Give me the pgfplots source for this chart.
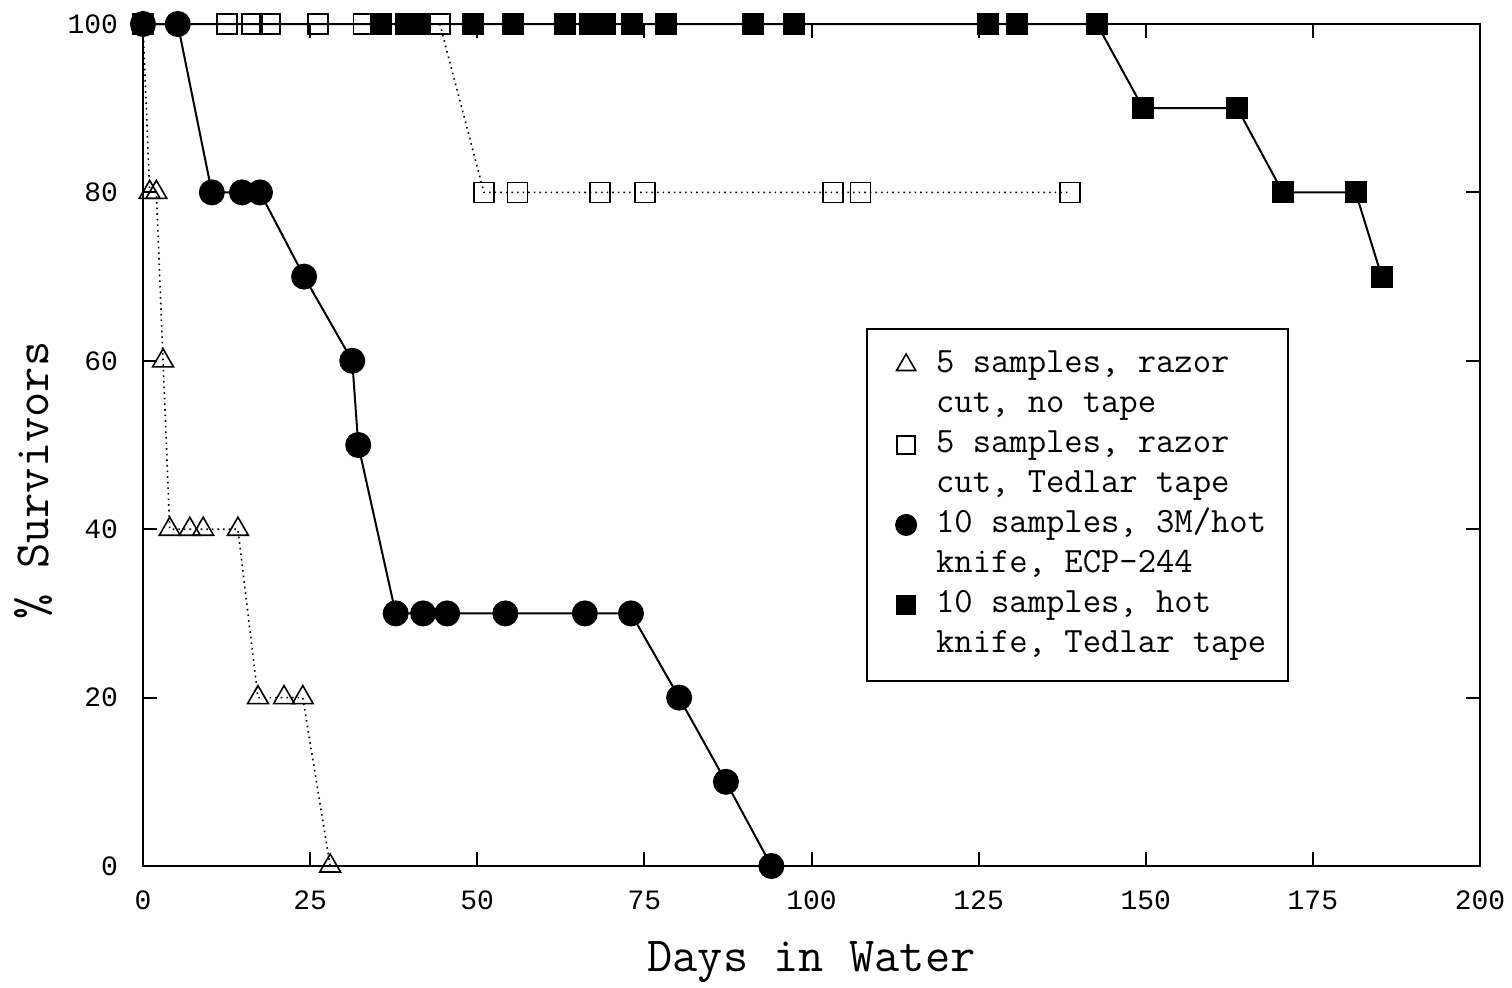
\documentclass[border=0pt]{standalone}
\usepackage{pgfplots}
\pgfplotsset{compat=1.18}
\usepackage{fontspec}
\setmainfont{Liberation Mono}
\setmonofont{Latin Modern Mono}
\begin{document}
\begin{tikzpicture}
\begin{axis}[
  scale only axis,
  width=668.5pt, height=421pt,
  at={(0,0)}, anchor=south west,
  xmin=0, xmax=200, ymin=0, ymax=100,
  xtick={0,25,...,200}, ytick={0,20,...,100},
  tick align=inside,
  major tick length=7pt,
  axis line style={line width=1pt},
  tick style={line width=1pt, black},
  /pgf/number format/assume math mode=true,
  tick label style={font=\fontsize{14}{16}\selectfont},
  xticklabel style={yshift=-9pt},
  yticklabel style={xshift=-9pt},
  xlabel={Days in Water},
  ylabel={\% Survivors},
  label style={font=\ttfamily\fontsize{24.5}{28}\selectfont},
  xlabel style={at={(axis description cs:0.5,-0.114)}, anchor=center},
  ylabel style={at={(axis description cs:-0.082,0.458)}, anchor=center},
  legend style={at={(axis description cs:0.5408,0.639)}, anchor=north west,
    draw=black, line width=1pt, font=\ttfamily\bfseries\fontsize{17.8}{20}\selectfont,
    inner xsep=11pt, inner ysep=10pt, row sep=4pt,
    nodes={inner sep=0pt, text height=12pt, text depth=4pt},
    column sep=10pt},
  legend cell align=left,
]
% triangles: 5 samples, razor cut, no tape
\addplot[black, dotted, line width=0.8pt, mark=triangle, mark size=6pt,
  mark options={solid, fill=white, line width=0.8pt}, forget plot] coordinates {
  (0,100) (1,80) (2,80) (3,60) (4,40) (7,40) (9,40) (14.2,40)
  (17.2,20) (21.1,20) (23.9,20) (28,0)};
% open squares: 5 samples, razor cut, Tedlar tape
\addplot[black, dotted, line width=0.8pt, mark=square, mark size=5pt,
  mark options={solid, fill=white, line width=0.8pt}, forget plot] coordinates {
  (0,100) (12.6,100) (16.3,100) (19,100) (26.2,100) (33,100) (44.4,100)
  (51,80) (56,80) (68.4,80) (75.1,80) (103.2,80) (107.3,80) (138.7,80)};
% filled circles: 10 samples, 3M/hot knife, ECP-244
\addplot[black, solid, line width=1pt, mark=*, mark size=6pt, forget plot] coordinates {
  (0,100) (5.2,100) (10.3,80) (14.8,80) (17.5,80) (24.1,70) (31.3,60) (32.2,50)
  (37.8,30) (41.9,30) (45.5,30) (54.2,30) (66.1,30) (73,30) (80.2,20) (87.2,10) (94,0)};
% filled squares: 10 samples, hot knife, Tedlar tape
\addplot[black, solid, line width=1pt, mark=square*, mark size=5pt, forget plot] coordinates {
  (0,100) (35.6,100) (39.4,100) (41.2,100) (49.3,100) (55.3,100) (63.1,100)
  (66.9,100) (69.1,100) (73.1,100) (78.2,100) (91.3,100) (97.4,100)
  (126.4,100) (130.7,100) (142.7,100) (149.6,90) (163.7,90) (170.5,80)
  (181.4,80) (185.3,70)};
\addlegendimage{only marks, mark=triangle, mark size=5.5pt, mark options={line width=0.8pt}}
\addlegendentry{5 samples, razor}
\addlegendimage{empty legend}
\addlegendentry{cut, no tape}
\addlegendimage{only marks, mark=square, mark size=4.5pt, mark options={line width=0.8pt}}
\addlegendentry{5 samples, razor}
\addlegendimage{empty legend}
\addlegendentry{cut, Tedlar tape}
\addlegendimage{only marks, mark=*, mark size=5pt}
\addlegendentry{10 samples, 3M/hot}
\addlegendimage{empty legend}
\addlegendentry{knife, ECP-244}
\addlegendimage{only marks, mark=square*, mark size=4.5pt}
\addlegendentry{10 samples, hot}
\addlegendimage{empty legend}
\addlegendentry{knife, Tedlar tape}
\end{axis}
\pgfresetboundingbox
\path[use as bounding box] (-71.5pt,-60.5pt) rectangle (684.5pt,433pt);
\end{tikzpicture}
\end{document}
